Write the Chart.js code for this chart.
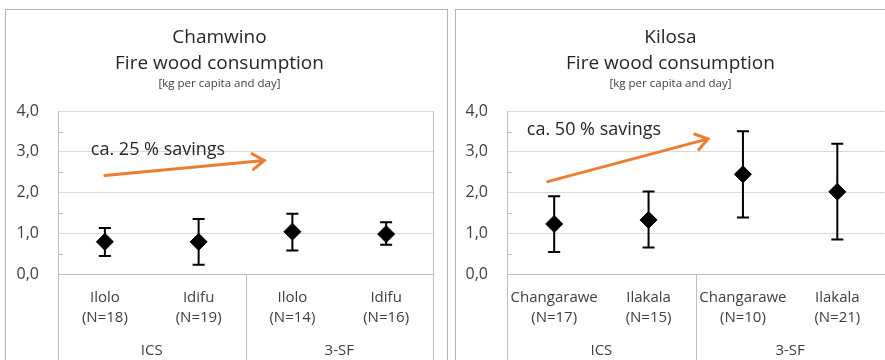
<!DOCTYPE html>
<html>
<head>
<meta charset="utf-8">
<script src="https://cdn.jsdelivr.net/npm/chart.js@4"></script>
<style>
  html, body { margin: 0; padding: 0; background: #fff; }
  body { width: 885px; height: 360px; overflow: hidden; position: relative; }
  .panel { position: absolute; top: 9px; height: 400px; border: 1px solid #b4b4b4; background: #fff; }
  #left { left: 5px; width: 441px; }
  #right { left: 455px; width: 460px; }
  canvas { position: absolute; left: 0; top: 0; }
</style>
</head>
<body>
<div class="panel" id="left"><canvas id="chamwino" width="441" height="372"></canvas></div>
<div class="panel" id="right"><canvas id="kilosa" width="438" height="372"></canvas></div>
<script>
// values (kg per capita and day)
const chamwinoLabels = [['Ilolo', '(N=18)'], ['Idifu', '(N=19)'], ['Ilolo', '(N=14)'], ['Idifu', '(N=16)']];
const chamwinoMean = [0.79, 0.79, 1.04, 0.98];
const chamwinoLow = [0.44, 0.23, 0.58, 0.72];
const chamwinoHigh = [1.13, 1.35, 1.48, 1.27];

const kilosaLabels = [['Changarawe', '(N=17)'], ['Ilakala', '(N=15)'], ['Changarawe', '(N=10)'], ['Ilakala', '(N=21)']];
const kilosaMean = [1.23, 1.33, 2.45, 2.02];
const kilosaLow = [0.54, 0.65, 1.39, 0.85];
const kilosaHigh = [1.91, 2.03, 3.51, 3.20];

const groupLabels = ['ICS', '3-SF'];
const yMin = 0;
const yMax = 4;
const yStep = 1;

// arrow notes, in [category index, value]
const chamwinoNote = { text: 'ca. 25 % savings', at: [-0.15, 3.06], from: [0, 2.42], to: [1.7, 2.79] };
const kilosaNote = { text: 'ca. 50 % savings', at: [-0.29, 3.53], from: [-0.07, 2.27], to: [1.63, 3.32] };

Chart.defaults.font.family = "'Open Sans', sans-serif";
Chart.defaults.color = '#404040';

const panelDecor = {
  id: 'panelDecor',
  beforeDatasetsDraw(chart, args, opts) {
    const { ctx, chartArea, scales: { x, y } } = chart;
    const n = chart.data.labels.length;
    ctx.save();

    // minor ticks halfway between the major ones
    ctx.strokeStyle = '#bfbfbf';
    ctx.lineWidth = 1;
    for (let v = yMin + yStep / 2; v < yMax; v += yStep) {
      const py = Math.round(y.getPixelForValue(v)) + 0.5;
      ctx.beginPath();
      ctx.moveTo(chartArea.left, py);
      ctx.lineTo(chartArea.left + 5, py);
      ctx.stroke();
    }

    // plot frame right side and group separators
    const right = Math.round(x.getPixelForValue(n - 0.5)) + 0.5;
    ctx.beginPath();
    ctx.moveTo(right, chartArea.top);
    ctx.lineTo(right, chart.height);
    const left = Math.round(x.getPixelForValue(-0.5)) + 0.5;
    ctx.moveTo(left, chartArea.bottom);
    ctx.lineTo(left, chart.height);
    const mid = Math.round(x.getPixelForValue(n / 2 - 0.5)) + 0.5;
    ctx.moveTo(mid, chartArea.bottom);
    ctx.lineTo(mid, chart.height);
    ctx.stroke();

    // group labels
    ctx.fillStyle = '#404040';
    ctx.font = "15px 'Open Sans', sans-serif";
    ctx.textAlign = 'center';
    ctx.textBaseline = 'middle';
    groupLabels.forEach((g, k) => {
      const cx = x.getPixelForValue(k * n / 2 + n / 4 - 0.5);
      ctx.fillText(g, cx, chartArea.bottom + 77);
    });

    // error bars
    ctx.strokeStyle = '#000';
    ctx.lineWidth = 2;
    opts.low.forEach((lo, i) => {
      const px = x.getPixelForValue(i);
      const pLo = y.getPixelForValue(lo);
      const pHi = y.getPixelForValue(opts.high[i]);
      ctx.beginPath();
      ctx.moveTo(px, pLo);
      ctx.lineTo(px, pHi);
      ctx.moveTo(px - 6, pLo);
      ctx.lineTo(px + 6, pLo);
      ctx.moveTo(px - 6, pHi);
      ctx.lineTo(px + 6, pHi);
      ctx.stroke();
    });

    // savings note with arrow
    const note = opts.note;
    ctx.fillStyle = '#262626';
    ctx.font = "18px 'Open Sans', sans-serif";
    ctx.textAlign = 'left';
    ctx.fillText(note.text, x.getPixelForValue(note.at[0]), y.getPixelForValue(note.at[1]));

    const x1 = x.getPixelForValue(note.from[0]);
    const y1 = y.getPixelForValue(note.from[1]);
    const x2 = x.getPixelForValue(note.to[0]);
    const y2 = y.getPixelForValue(note.to[1]);
    const ang = Math.atan2(y2 - y1, x2 - x1);
    ctx.strokeStyle = '#ed7d31';
    ctx.lineWidth = 3;
    ctx.lineCap = 'round';
    ctx.beginPath();
    ctx.moveTo(x1, y1);
    ctx.lineTo(x2, y2);
    ctx.moveTo(x2 - 14 * Math.cos(ang - 0.6), y2 - 14 * Math.sin(ang - 0.6));
    ctx.lineTo(x2, y2);
    ctx.lineTo(x2 - 14 * Math.cos(ang + 0.6), y2 - 14 * Math.sin(ang + 0.6));
    ctx.stroke();

    ctx.restore();
  }
};

function makePanel(id, place, labels, mean, low, high, note, axisWidth, padRight) {
  return new Chart(document.getElementById(id), {
    type: 'line',
    data: {
      labels: labels,
      datasets: [{
        data: mean,
        showLine: false,
        pointStyle: 'rectRot',
        pointRadius: 8.5,
        pointHoverRadius: 8.5,
        backgroundColor: '#000',
        borderColor: '#000'
      }]
    },
    options: {
      responsive: false,
      animation: false,
      events: [],
      layout: { padding: { top: 0, left: 0, right: padRight, bottom: 0 } },
      plugins: {
        legend: { display: false },
        tooltip: { enabled: false },
        title: {
          display: true,
          text: [place, 'Fire wood consumption'],
          color: '#262626',
          font: { size: 19, weight: 'normal', lineHeight: 1.38 },
          padding: { top: 14, bottom: 0 }
        },
        subtitle: {
          display: true,
          text: '[kg per capita and day]',
          color: '#404040',
          font: { size: 11.5, lineHeight: 1.2 },
          padding: { top: 0, bottom: 21 }
        },
        panelDecor: { low: low, high: high, note: note }
      },
      scales: {
        x: {
          offset: true,
          grid: { display: false },
          border: { display: true, color: '#bfbfbf' },
          ticks: { font: { size: 15, lineHeight: 1.3 }, padding: 6, maxRotation: 0, autoSkip: false },
          afterFit: scale => { scale.height = 108; }
        },
        y: {
          min: yMin,
          max: yMax,
          grid: { color: '#d9d9d9', drawTicks: false },
          border: { color: '#bfbfbf' },
          ticks: {
            stepSize: yStep,
            padding: 19,
            font: { size: 16 },
            callback: v => v.toFixed(1).replace('.', ',')
          },
          afterFit: scale => { scale.width = axisWidth; }
        }
      }
    },
    plugins: [panelDecor]
  });
}

makePanel('chamwino', 'Chamwino', chamwinoLabels, chamwinoMean, chamwinoLow, chamwinoHigh, chamwinoNote, 52, 14);
makePanel('kilosa', 'Kilosa', kilosaLabels, kilosaMean, kilosaLow, kilosaHigh, kilosaNote, 51, 9);
</script>
</body>
</html>
